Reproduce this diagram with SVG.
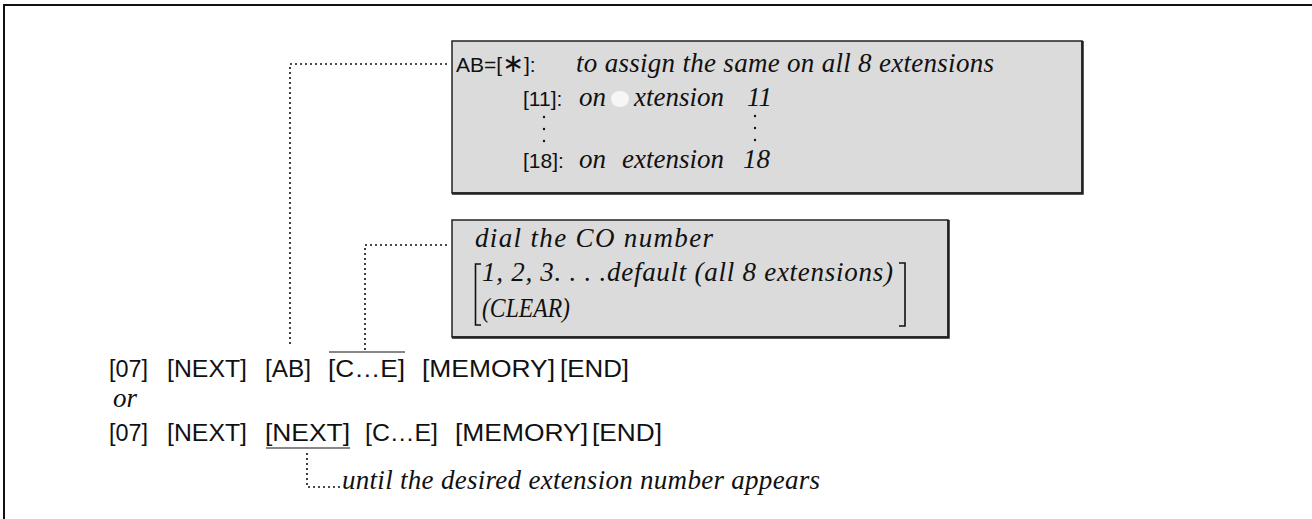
<svg xmlns="http://www.w3.org/2000/svg" width="1312" height="519" viewBox="0 0 1312 519">
<style>
.sans{font-family:"Liberation Sans",Arial,sans-serif;font-size:21px;fill:#111}
.seq{font-family:"Liberation Sans",Arial,sans-serif;font-size:23px;fill:#111}
.ital{font-family:"Liberation Serif","Times New Roman",serif;font-style:italic;font-size:27px;fill:#111}
.box{fill:#dbdbdb;stroke:#222;stroke-width:1.5}
.shadow{fill:none;stroke:#222;stroke-width:2.5}
.dot{fill:none;stroke:#111;stroke-width:1.6;stroke-dasharray:2 3}
.rule{fill:none;stroke:#111;stroke-width:1.2}
.brk{fill:none;stroke:#111;stroke-width:1.6}
</style>
<rect width="1312" height="519" fill="#fff"/>
<g id="frame">
<path d="M4 5 H1312 M4 4 V519" fill="none" stroke="#111" stroke-width="2"/>
</g>
<g id="connectors">
<path class="dot" d="M447 64 H290 V346"/>
<path class="dot" d="M447 245 H365 V351"/>
<path class="dot" d="M307 453 V487 H340"/>
</g>
<g id="box-ab">
<rect class="box" x="452" y="41" width="630" height="152"/>
<path class="shadow" d="M1082.5 41 V193.5 H452"/>
<ellipse cx="620" cy="99" rx="9" ry="8" fill="#f6f6f6"/>
<text class="sans" x="456" y="72" font-size="23">AB=[<tspan font-family="DejaVu Sans, sans-serif" font-size="26" fill="#111">∗</tspan>]:</text>
<text class="ital" x="576" y="72" textLength="418" lengthAdjust="spacing">to assign the same on all 8 extensions</text>
<text class="sans" x="523" y="106">[11]:</text>
<text class="ital" x="579" y="106">on</text>
<text class="ital" x="634" y="106">xtension</text>
<text class="ital" x="747" y="106">11</text>
<g fill="#111">
<circle cx="544" cy="117" r="1.2"/><circle cx="544" cy="129" r="1.2"/><circle cx="544" cy="141" r="1.2"/>
<circle cx="755" cy="116" r="1.2"/><circle cx="755" cy="128" r="1.2"/><circle cx="755" cy="140" r="1.2"/>
</g>
<text class="sans" x="523" y="168">[18]:</text>
<text class="ital" x="579" y="168">on</text>
<text class="ital" x="622" y="168">extension</text>
<text class="ital" x="743" y="168">18</text>
</g>
<g id="box-co">
<rect class="box" x="452" y="220" width="496" height="117"/>
<path class="shadow" d="M948.5 220 V337.5 H452"/>
<text class="ital" x="475" y="247" textLength="238" lengthAdjust="spacing">dial  the  CO  number</text>
<path class="brk" d="M481 264 H475.5 V325 H481"/>
<text class="ital" x="482" y="281" textLength="411" lengthAdjust="spacing">1,  2,  3. . . .default (all 8 extensions)</text>
<text class="ital" x="482" y="317" textLength="88" lengthAdjust="spacingAndGlyphs">(CLEAR)</text>
<path class="brk" d="M899 263 H905 V326 H899"/>
</g>
<g id="seq1">
<text class="seq" x="109" y="377" textLength="39" lengthAdjust="spacingAndGlyphs">[07]</text>
<text class="seq" x="167" y="377" textLength="80" lengthAdjust="spacingAndGlyphs">[NEXT]</text>
<text class="seq" x="265" y="377" textLength="46" lengthAdjust="spacingAndGlyphs">[AB]</text>
<text class="seq" x="328" y="377" textLength="77" lengthAdjust="spacingAndGlyphs">[C…E]</text>
<path class="rule" d="M329 352 H405"/>
<text class="seq" x="422" y="377" textLength="133" lengthAdjust="spacingAndGlyphs">[MEMORY]</text>
<text class="seq" x="560" y="377" textLength="69" lengthAdjust="spacingAndGlyphs">[END]</text>
</g>
<g id="or">
<text class="ital" x="113" y="407" font-size="21">or</text>
</g>
<g id="seq2">
<text class="seq" x="109" y="441" textLength="39" lengthAdjust="spacingAndGlyphs">[07]</text>
<text class="seq" x="167" y="441" textLength="80" lengthAdjust="spacingAndGlyphs">[NEXT]</text>
<text class="seq" x="265" y="441" textLength="85" lengthAdjust="spacingAndGlyphs">[NEXT]</text>
<path class="rule" d="M266 448 H350"/>
<text class="seq" x="365" y="441" textLength="73" lengthAdjust="spacingAndGlyphs">[C…E]</text>
<text class="seq" x="455" y="441" textLength="133" lengthAdjust="spacingAndGlyphs">[MEMORY]</text>
<text class="seq" x="592" y="441" textLength="70" lengthAdjust="spacingAndGlyphs">[END]</text>
</g>
<g id="note-next">
<text class="ital" x="342" y="489" textLength="478" lengthAdjust="spacing">until the desired extension number appears</text>
</g>
</svg>
